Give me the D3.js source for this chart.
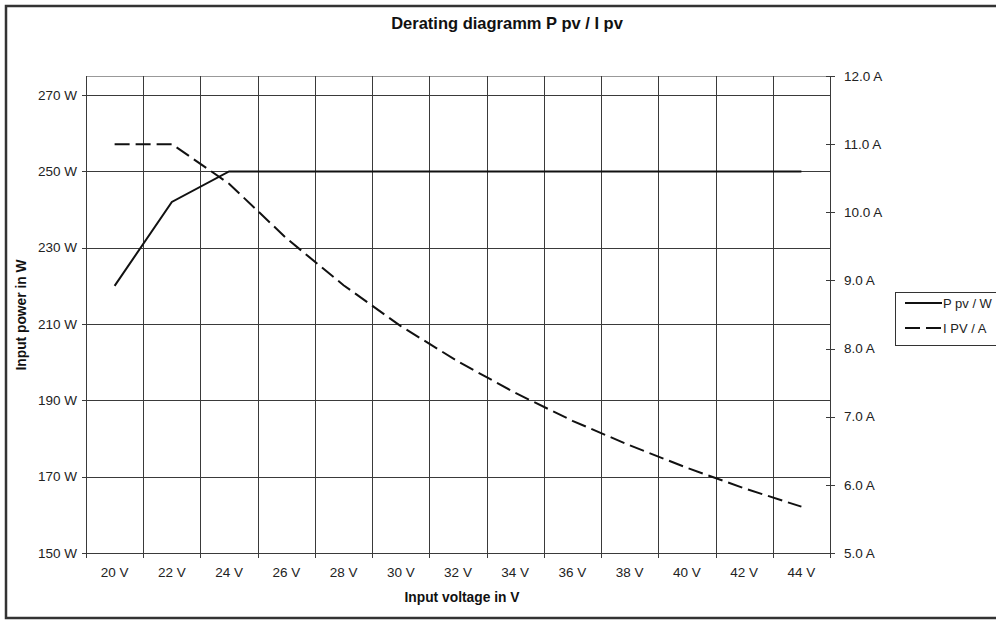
<!DOCTYPE html>
<html><head><meta charset="utf-8">
<script src="https://cdn.jsdelivr.net/npm/d3@7"></script>
<style>body{margin:0;background:#fff}svg{display:block;font-family:"Liberation Sans",Arial,sans-serif}</style>
</head><body><svg id="c" width="996" height="621"></svg>
<script>
const voltages = ["20 V","22 V","24 V","26 V","28 V","30 V","32 V","34 V","36 V","38 V","40 V","42 V","44 V"];
const powerW = [220,242,250,250,250,250,250,250,250,250,250,250,250];
const currentA = [11.0,11.0,10.42,9.62,8.93,8.33,7.81,7.35,6.94,6.58,6.25,5.95,5.68];
const powerTicks = [150,170,190,210,230,250,270];
const currentTicks = [5,6,7,8,9,10,11,12];
const seriesNames = ["P pv / W","I PV / A"];

const svg = d3.select("#c");
const L=86,R=830,T=76,B=553;
const x = d3.scaleBand().domain(voltages).range([L,R]);
const yP = d3.scaleLinear().domain([150,275]).range([B,T]);
const yI = d3.scaleLinear().domain([5,12]).range([B,T]);
const txt="#222", grid="#3a3a3a", fs=13.5;

// outer frame
svg.append("rect").attr("x",6).attr("y",6).attr("width",1000).attr("height",612)
  .attr("fill","none").attr("stroke","#333").attr("stroke-width",2.5);

// top plot border
svg.append("line").attr("x1",L).attr("x2",R).attr("y1",T+0.5).attr("y2",T+0.5).attr("stroke","#999");

// horizontal grid
svg.append("g").selectAll("line").data(powerTicks).join("line")
  .attr("x1",L-4).attr("x2",R).attr("y1",d=>Math.round(yP(d))+0.5).attr("y2",d=>Math.round(yP(d))+0.5)
  .attr("stroke",grid);
// vertical grid at band boundaries
const bounds = voltages.map(v=>x(v)).concat([R]);
svg.append("g").selectAll("line").data(bounds).join("line")
  .attr("x1",d=>Math.round(d)+0.5).attr("x2",d=>Math.round(d)+0.5).attr("y1",T).attr("y2",B+5)
  .attr("stroke",grid);
// right axis ticks
svg.append("g").selectAll("line").data(currentTicks).join("line")
  .attr("x1",R-4).attr("x2",R+5).attr("y1",d=>Math.round(yI(d))+0.5).attr("y2",d=>Math.round(yI(d))+0.5)
  .attr("stroke",grid);

// tick labels
svg.append("g").selectAll("text").data(powerTicks).join("text")
  .attr("x",77).attr("y",d=>yP(d)).attr("dy","0.35em").attr("text-anchor","end")
  .attr("font-size",fs).attr("fill",txt).text(d=>d+" W");
svg.append("g").selectAll("text").data(currentTicks).join("text")
  .attr("x",844).attr("y",d=>yI(d)).attr("dy","0.35em")
  .attr("font-size",fs).attr("fill",txt).text(d=>d.toFixed(1)+" A");
svg.append("g").selectAll("text").data(voltages).join("text")
  .attr("x",d=>x(d)+x.bandwidth()/2).attr("y",572).attr("dy","0.35em").attr("text-anchor","middle")
  .attr("font-size",fs).attr("fill",txt).text(d=>d);

// series
const cx = d=>x(d)+x.bandwidth()/2;
svg.append("path").datum(voltages.map((v,i)=>[cx(v),yP(powerW[i])]))
  .attr("d",d3.line()).attr("fill","none").attr("stroke","#111").attr("stroke-width",2);
svg.append("path").datum(voltages.map((v,i)=>[cx(v),yI(currentA[i])]))
  .attr("d",d3.line()).attr("fill","none").attr("stroke","#111").attr("stroke-width",2)
  .attr("stroke-dasharray","15,6");

// titles
svg.append("text").attr("x",507).attr("y",23).attr("dy","0.35em").attr("text-anchor","middle")
  .attr("font-size",16.5).attr("font-weight","bold").attr("fill","#111").text("Derating diagramm P pv / I pv");
svg.append("text").attr("x",462).attr("y",597).attr("dy","0.35em").attr("text-anchor","middle")
  .attr("font-size",13.8).attr("font-weight","bold").attr("fill","#111").text("Input voltage in V");
svg.append("text").attr("transform","translate(21,315) rotate(-90)").attr("dy","0.35em").attr("text-anchor","middle")
  .attr("font-size",13.8).attr("font-weight","bold").attr("fill","#111").text("Input power in W");

// legend
const lg = svg.append("g");
lg.append("rect").attr("x",895.5).attr("y",292.5).attr("width",120).attr("height",53)
  .attr("fill","#fff").attr("stroke","#333");
seriesNames.forEach((n,i)=>{
  const yy = 303 + i*25;
  lg.append("line").attr("x1",905).attr("x2",942).attr("y1",yy).attr("y2",yy)
    .attr("stroke","#111").attr("stroke-width",2).attr("stroke-dasharray",i?"15,6":null);
  lg.append("text").attr("x",943).attr("y",yy).attr("dy","0.35em").attr("font-size",13)
    .attr("fill",txt).text(n);
});
</script></body></html>
